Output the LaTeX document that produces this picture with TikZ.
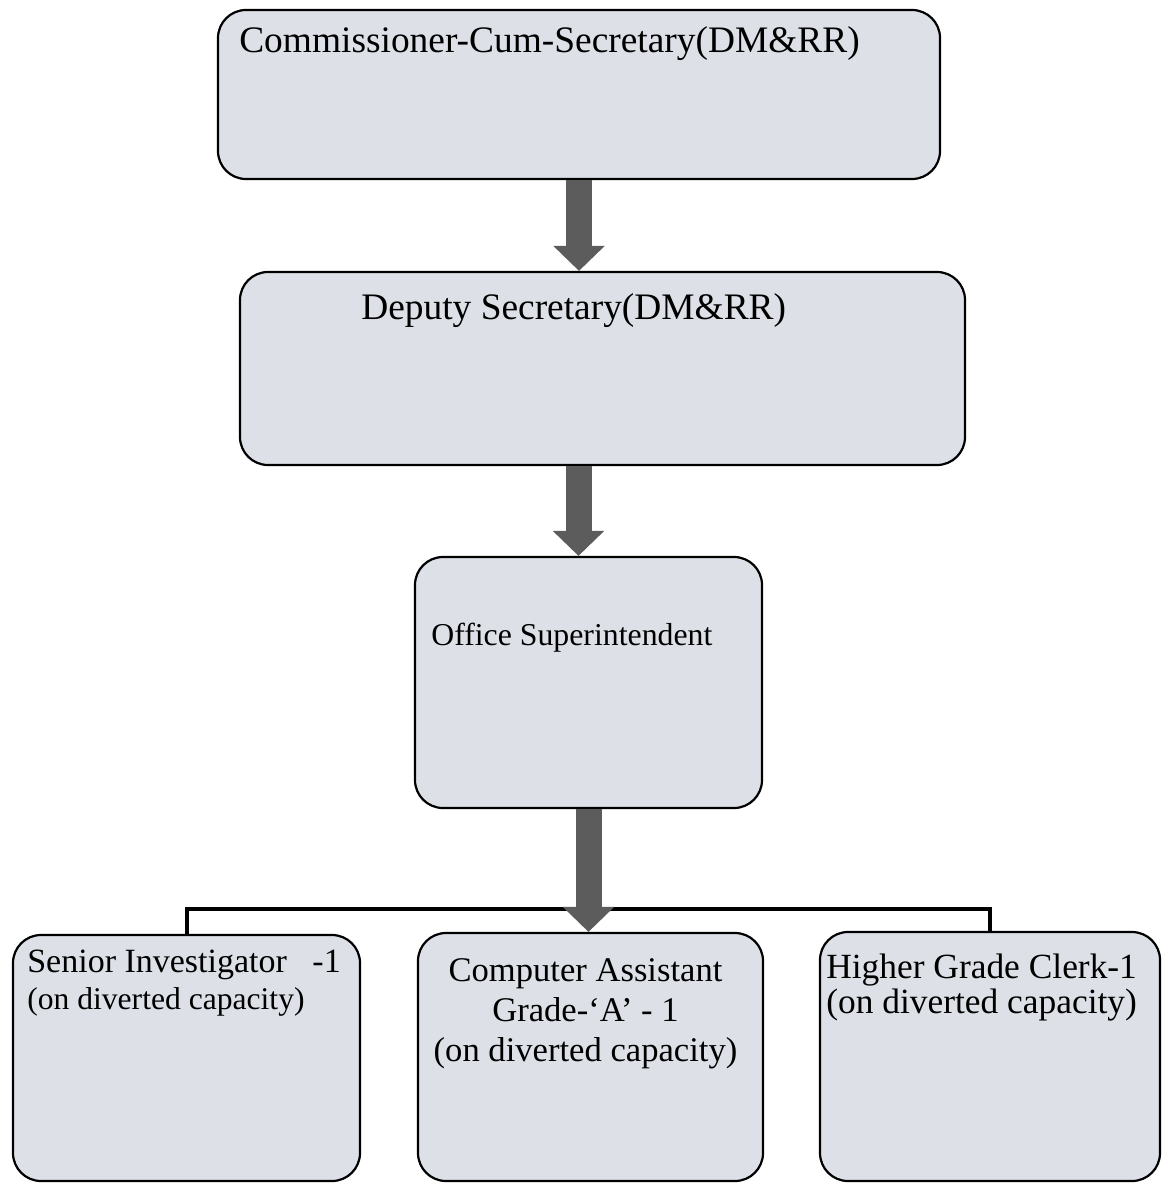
\documentclass[tikz,border=0pt]{standalone}
\usepackage{fontspec}
\setmainfont{Liberation Serif}
\usetikzlibrary{arrows.meta,positioning}
\definecolor{boxfill}{RGB}{221,225,231}
\definecolor{arrowgray}{RGB}{92,92,92}
\tikzset{
  post/.style={draw, rounded corners=14pt, line width=1.1pt, fill=boxfill},
  txt/.style={inner sep=0pt, anchor=north west, align=left},
  blockarrow/.style={-{Triangle[width=25pt,length=12.5pt]}, line width=13pt, arrowgray},
  conn/.style={line width=2pt}
}

\begin{document}
\begin{tikzpicture}[x=0.5pt,y=-0.5pt]
\useasboundingbox (0,0) rectangle (1168,1183);

% posts
\node[post, minimum width=361pt, minimum height=84.5pt] (comm) at (579,94.5) {};
\node[post, minimum width=362.5pt, minimum height=96.5pt] (deputy) at (602.5,368.5) {};
\node[post, minimum width=173.5pt, minimum height=125.5pt] (office) at (588.5,682.5) {};
\node[post, minimum width=173.5pt, minimum height=123pt] (senior) at (186.5,1058) {};
\node[post, minimum width=172.5pt, minimum height=124pt] (computer) at (590.5,1057) {};
\node[post, minimum width=170pt, minimum height=124.5pt] (clerk) at (990,1056.5) {};

% texts
\node[txt, font=\fontsize{18.7}{22}\selectfont] (commtxt) at ([shift={(22,17)}]comm.north west) {Commissioner-Cum-Secretary(DM\&RR)};
\node[txt, font=\fontsize{18.7}{22}\selectfont] (deputytxt) at ([shift={(122,22)}]deputy.north west) {Deputy Secretary(DM\&RR)};
\node[txt, font=\fontsize{15.9}{19}\selectfont] (officetxt) at ([shift={(17,67)}]office.north west) {Office Superintendent};
\node[txt, font=\fontsize{15.8}{18.5}\selectfont] (seniortxt) at ([shift={(15,16)}]senior.north west) {{\fontsize{17}{18.5}\selectfont Senior Investigator\hspace{0.75em}-1}\\(on diverted capacity)};
\node[txt, anchor=north, align=center, font=\fontsize{17.3}{20}\selectfont] (computertxt) at ([shift={(-5,26)}]computer.north) {Computer Assistant\\Grade-`A' - 1\\(on diverted capacity)};
\node[txt, font=\fontsize{17.7}{17.5}\selectfont] (clerktxt) at ([shift={(7,23)}]clerk.north west) {Higher Grade Clerk-1\\(on diverted capacity)};

% arrows
\draw[blockarrow] (comm.south) -- (comm.south |- deputy.north);
\draw[blockarrow] ([xshift=-5pt]deputy.south -| office.north) -- ([xshift=-5pt]office.north);
\coordinate (bus) at (590,909);
\draw[conn] (senior.north) |- (bus) -| (clerk.north);
\draw[blockarrow] (office.south) -- (office.south |- computer.north);
\end{tikzpicture}
\end{document}
